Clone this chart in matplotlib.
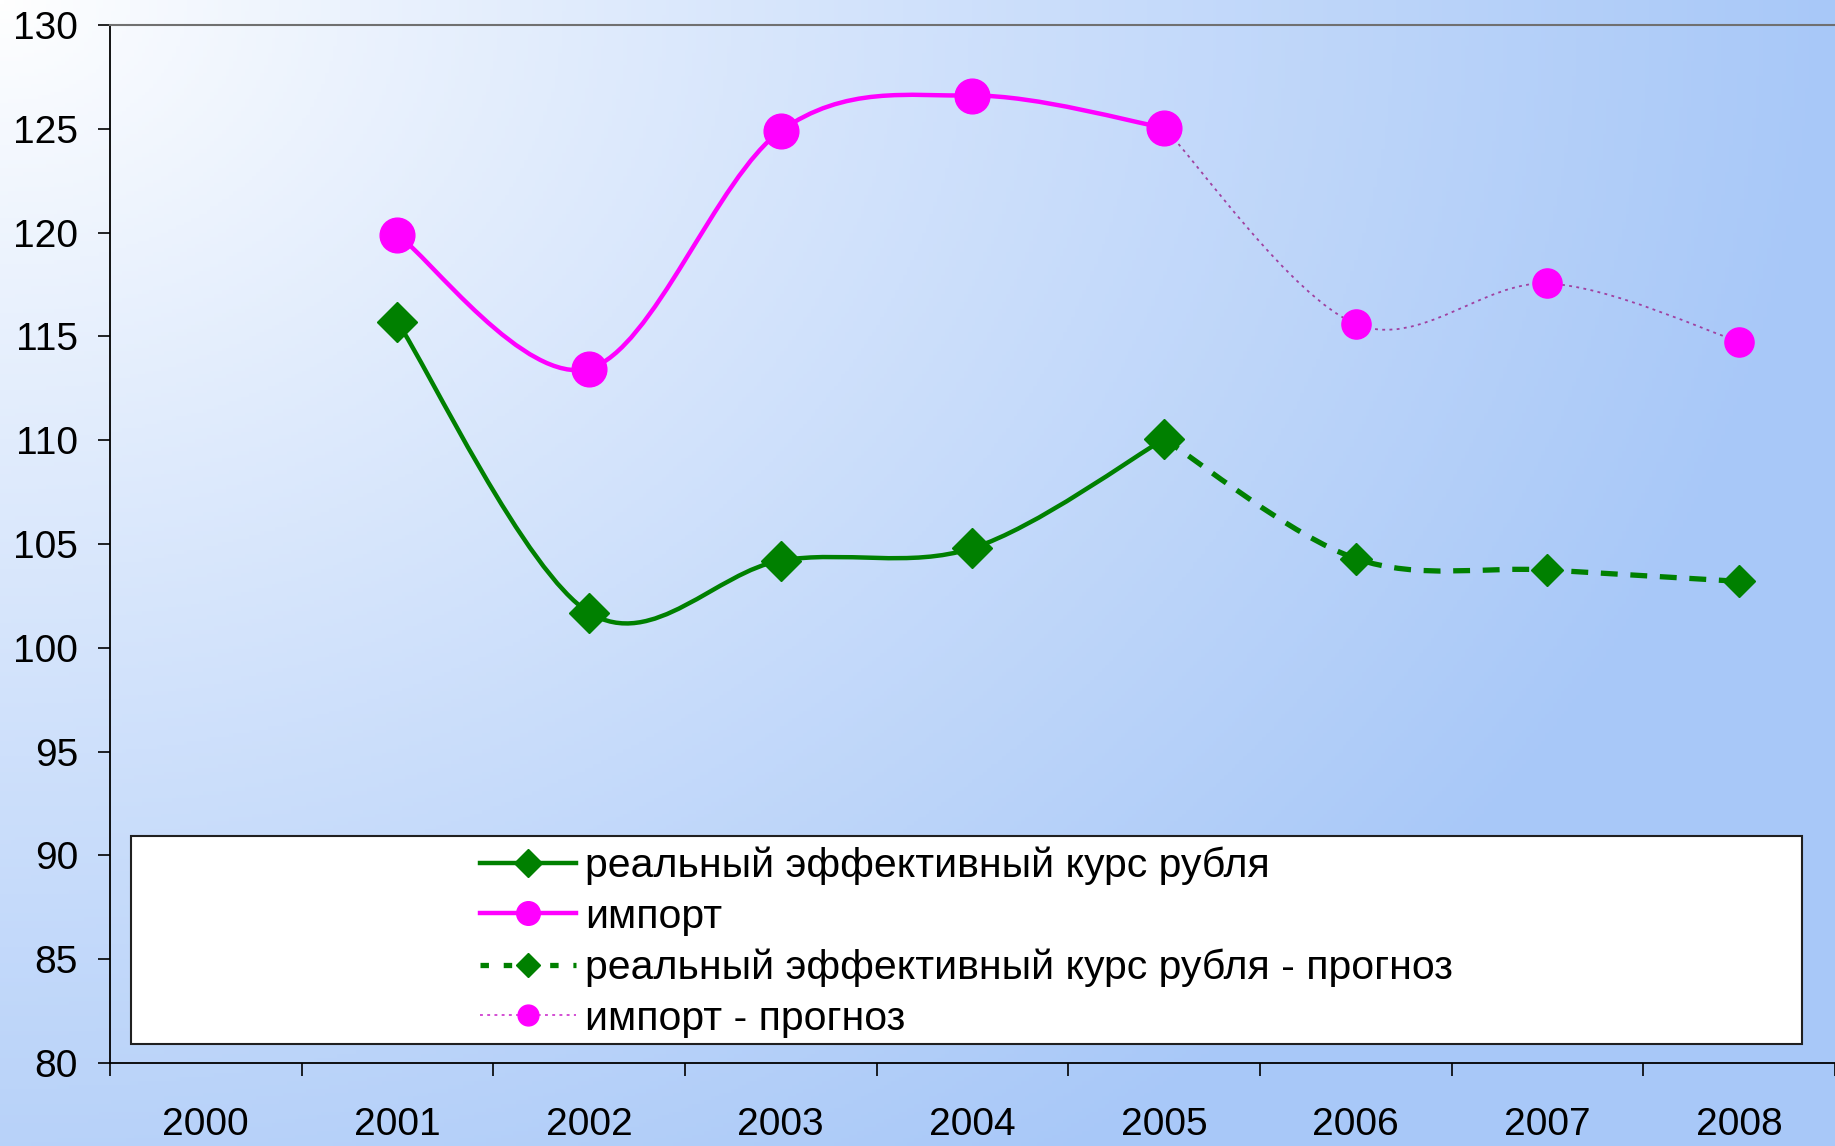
import numpy as np
import matplotlib
matplotlib.use('Agg')
import matplotlib.pyplot as plt
from matplotlib.path import Path
from matplotlib.patches import PathPatch, Rectangle
from matplotlib.lines import Line2D

plt.rcParams['font.family'] = ['Liberation Sans', 'DejaVu Sans']

years = ['2000', '2001', '2002', '2003', '2004', '2005', '2006', '2007', '2008']

# actual values 2001-2005, forecast 2005-2008
reer_years = ['2001', '2002', '2003', '2004', '2005']
reer = [115.7, 101.7, 104.2, 104.8, 110.05]
import_years = ['2001', '2002', '2003', '2004', '2005']
imports = [119.9, 113.45, 124.9, 126.6, 125.05]

fc_years = ['2005', '2006', '2007', '2008']
reer_fc = [110.05, 104.3, 103.75, 103.2]
imports_fc = [125.05, 115.6, 117.55, 114.75]

labels = ['реальный эффективный курс рубля', 'импорт',
          'реальный эффективный курс рубля - прогноз', 'импорт - прогноз']

GREEN = '#008000'
MAGENTA = '#FF00FF'


def smooth_path(xs, ys):
    # Excel-like smoothed line: cubic Bezier through the points
    pts = np.column_stack([xs, ys]).astype(float)
    n = len(pts)
    verts = [pts[0]]
    codes = [Path.MOVETO]
    for i in range(n - 1):
        p0 = pts[i - 1] if i > 0 else pts[i]
        p1 = pts[i]
        p2 = pts[i + 1]
        p3 = pts[i + 2] if i + 2 < n else pts[i + 1]
        verts += [p1 + (p2 - p0) / 6, p2 - (p3 - p1) / 6, p2]
        codes += [Path.CURVE4] * 3
    return Path(verts, codes)


fig = plt.figure(figsize=(18.35, 11.46), dpi=100)

# background gradient
bg = fig.add_axes([0, 0, 1, 1], zorder=-10)
H, W = 300, 480
gx = np.linspace(0, 1, W)[None, :]
gy = np.linspace(0, 1, H)[:, None]
d = np.clip(np.sqrt(gx ** 2 + (0.8 * gy) ** 2), 0, 1) ** 0.9
c0 = np.array([255, 255, 255]) / 255.
c1 = np.array([168, 200, 248]) / 255.
img = c0[None, None, :] + (c1 - c0)[None, None, :] * d[:, :, None]
bg.imshow(img, aspect='auto', extent=[0, 1, 0, 1], origin='upper')
bg.axis('off')

ax = fig.add_axes([0.0599, 0.0724, 0.9401, 0.9058])
ax.patch.set_alpha(0)

pos = {y: i for i, y in enumerate(years)}
xr = [pos[y] for y in reer_years]
xi = [pos[y] for y in import_years]
xf = [pos[y] for y in fc_years]

ax.add_patch(PathPatch(smooth_path(xr, reer), fill=False, edgecolor=GREEN, lw=3.2, zorder=3))
ax.add_patch(PathPatch(smooth_path(xi, imports), fill=False, edgecolor=MAGENTA, lw=3.2, zorder=3))
ax.add_patch(PathPatch(smooth_path(xf, reer_fc), fill=False, edgecolor=GREEN, lw=3.8,
                       linestyle=(0, (3.2, 2.4)), zorder=3))
ax.add_patch(PathPatch(smooth_path(xf, imports_fc), fill=False, edgecolor='#A040A0', lw=1.3,
                       linestyle=(0, (1.6, 2.4)), zorder=3))

ax.plot(xf[1:], reer_fc[1:], ls='none', marker='D', ms=16, color=GREEN, mec=GREEN, zorder=4)
ax.plot(xf[1:], imports_fc[1:], ls='none', marker='o', ms=21, color=MAGENTA, mec=MAGENTA, zorder=4)
ax.plot(xr, reer, ls='none', marker='D', ms=20, color=GREEN, mec=GREEN, zorder=5)
ax.plot(xi, imports, ls='none', marker='o', ms=25, color=MAGENTA, mec=MAGENTA, zorder=5)

ax.set_xlim(-0.5, len(years) - 0.5)
ax.set_ylim(80, 130)
ax.set_yticks(np.arange(80, 131, 5))
ax.set_xticks(np.arange(-0.5, len(years), 1.0))
ax.set_xticklabels([])
ax.set_xticks(np.arange(len(years)), minor=True)
ax.set_xticklabels(years, minor=True)
ax.tick_params(axis='x', which='minor', length=0, pad=32, labelsize=28)
ax.tick_params(axis='x', which='major', length=9, width=1.2, direction='out')
ax.tick_params(axis='y', length=9, width=1.2, direction='out', pad=14, labelsize=28)

for s in ['left', 'bottom']:
    ax.spines[s].set_linewidth(1.3)
    ax.spines[s].set_color('black')
ax.spines['top'].set_color('#707070')
ax.spines['top'].set_linewidth(1.5)
ax.spines['right'].set_visible(False)

# legend box
ax.add_patch(Rectangle((0.012, 0.018), 0.969, 0.2005, transform=ax.transAxes,
                       facecolor='white', edgecolor='#202020', lw=1.5, zorder=6))
handles = [
    Line2D([], [], color=GREEN, lw=3.2, marker='D', ms=14),
    Line2D([], [], color=MAGENTA, lw=3.2, marker='o', ms=17),
    Line2D([], [], color=GREEN, lw=3.8, ls=(0, (1.6, 2.8)), marker='D', ms=12),
    Line2D([], [], color='#D040D0', lw=1.3, ls=(0, (1.6, 2.4)), marker='o', ms=15,
           mfc=MAGENTA, mec=MAGENTA),
]
leg = ax.legend(handles, labels, loc='center left', bbox_to_anchor=(0.2145, 0.1165),
                frameon=False, fontsize=29.5, handlelength=2.34, handletextpad=0.22,
                labelspacing=0.31, borderpad=0, borderaxespad=0)
leg.set_zorder(7)

fig.savefig('out.png', dpi=100)
